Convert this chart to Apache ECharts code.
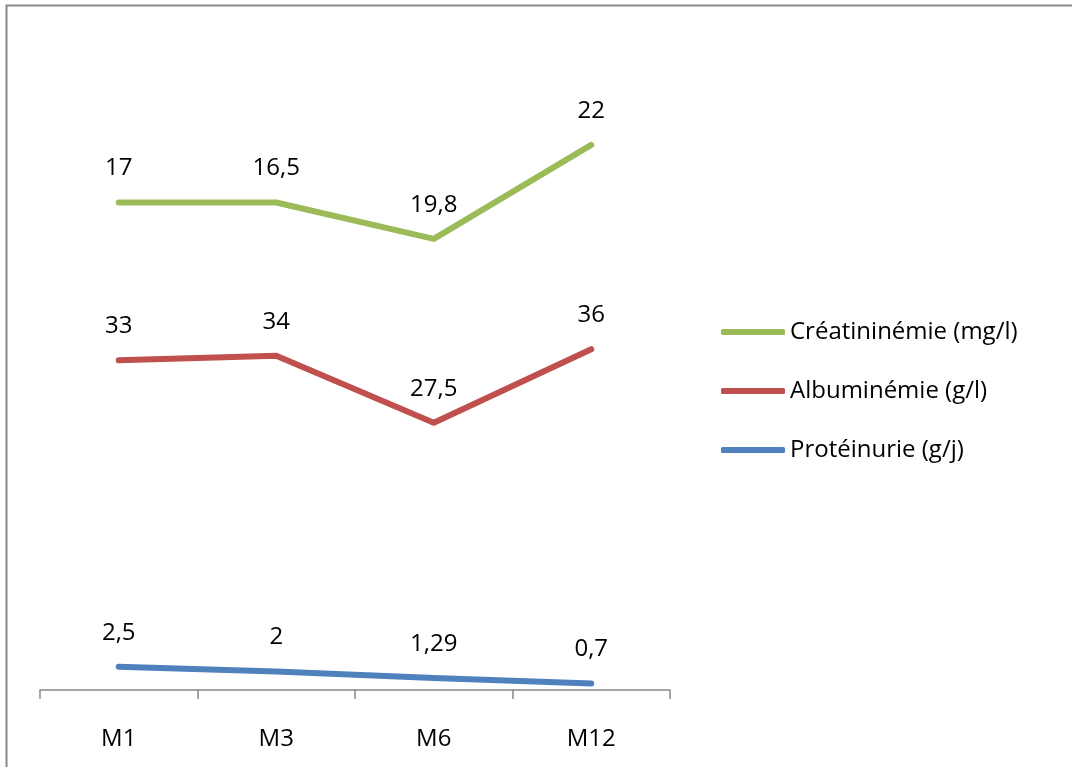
<!DOCTYPE html>
<html><head><meta charset="utf-8">
<script src="https://cdn.jsdelivr.net/npm/echarts@6/dist/echarts.min.js"></script>
<style>html,body{margin:0;padding:0;background:#fff;overflow:hidden}#c{width:1072px;height:767px}</style>
</head><body><div id="c"></div>
<script>
const categories = ['M1', 'M3', 'M6', 'M12'];
const proteinurie = [2.5, 2, 1.29, 0.7];
const albuminemie = [33, 34, 27.5, 36];
const creatininemie = [17, 16.5, 19.8, 22];
const seriesNames = ['Protéinurie (g/j)', 'Albuminémie (g/l)', 'Créatininémie (mg/l)'];
const colors = ['#4F81BD', '#C0504D', '#9BBB59'];
const FONT = '"Open Sans", sans-serif';

const chart = echarts.init(document.getElementById('c'));
function mk(name, data, color) {
  return {
    name, type: 'line', stack: 'total', data,
    symbol: 'circle', symbolSize: 2, showSymbol: true,
    smooth: false,
    lineStyle: { color, width: 6, cap: 'round', join: 'round' },
    itemStyle: { color },
    label: { show: true, position: 'top', distance: 21, color: '#000', fontSize: 24, fontFamily: FONT,
      formatter: p => String(p.value).replace('.', ',') },
    emphasis: { disabled: true }
  };
}
chart.setOption({
  animation: false,
  backgroundColor: '#fff',
  graphic: [{ type: 'rect', shape: { x: 6.5, y: 5.5, width: 1200, height: 900 },
    style: { fill: 'none', stroke: '#888', lineWidth: 2 } }],
  grid: { left: 40, right: 402, top: 40, bottom: 77 },
  legend: {
    orient: 'vertical', left: 716, top: 315, itemWidth: 64, itemHeight: 6, itemGap: 35,
    data: [seriesNames[2], seriesNames[1], seriesNames[0]],
    icon: 'roundRect',
    textStyle: { fontSize: 24, fontFamily: FONT, color: '#000', padding: [0, 0, 0, 0] }
  },
  xAxis: {
    type: 'category', data: categories, boundaryGap: true,
    axisLine: { lineStyle: { color: '#888', width: 1.5 } },
    axisTick: { show: true, length: 9, inside: false, lineStyle: { color: '#888', width: 1.5 } },
    axisLabel: { fontSize: 24, fontFamily: FONT, color: '#000', margin: 37 }
  },
  yAxis: { type: 'value', min: 0, max: 70, interval: 10, show: false, splitLine: { show: false } },
  series: [
    mk(seriesNames[0], proteinurie, colors[0]),
    mk(seriesNames[1], albuminemie, colors[1]),
    mk(seriesNames[2], creatininemie, colors[2])
  ]
});
</script></body></html>
